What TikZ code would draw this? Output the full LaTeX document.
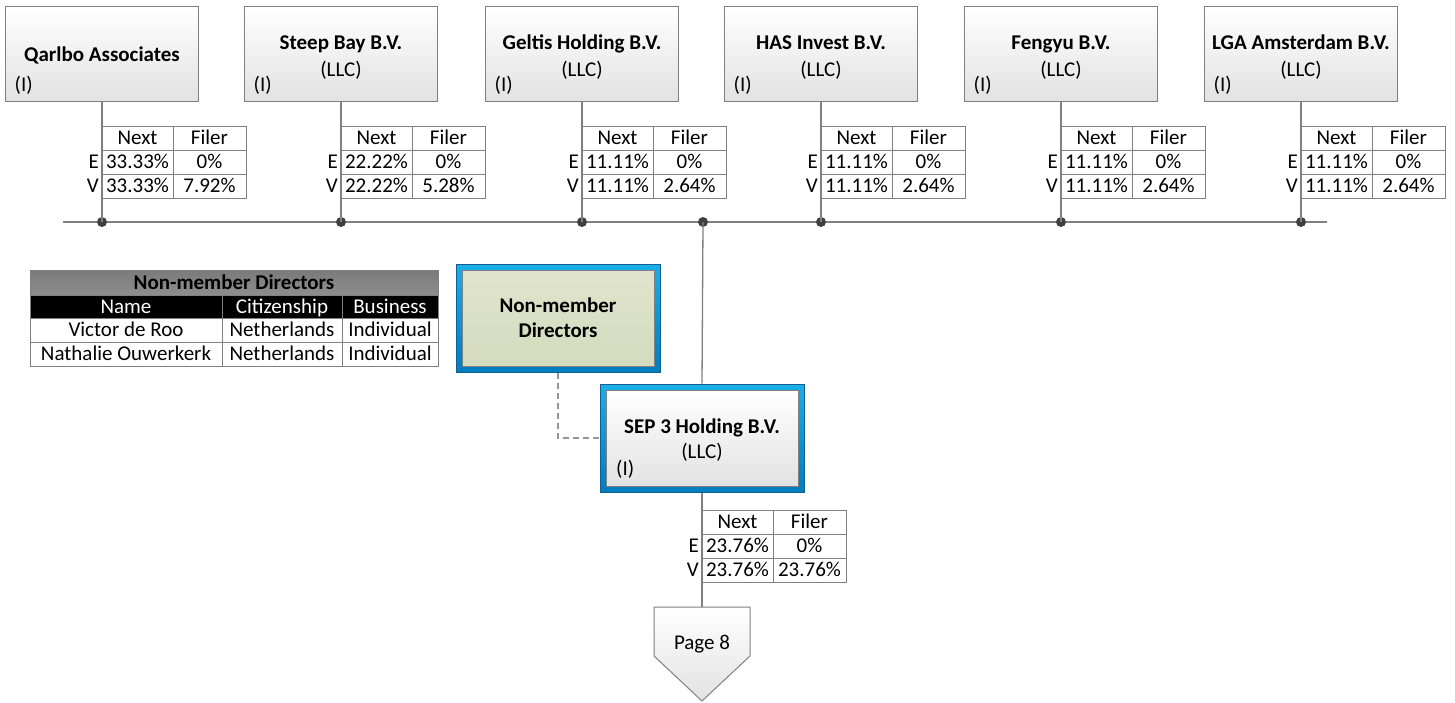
\documentclass[tikz,border=0pt]{standalone}
\usepackage{fontspec}
\setmainfont{Carlito}
\usetikzlibrary{shadings}
\definecolor{lgray}{RGB}{128,128,128}
\definecolor{dashc}{RGB}{150,150,150}
\definecolor{dotc}{RGB}{64,64,64}
\definecolor{boxbot}{RGB}{226,226,226}
\definecolor{bluetop}{RGB}{25,175,232}
\definecolor{bluebot}{RGB}{0,125,190}
\definecolor{blueedge}{RGB}{20,95,140}
\definecolor{greentop}{RGB}{224,228,204}
\definecolor{greenbot}{RGB}{212,219,190}
\definecolor{hdrgray}{RGB}{122,122,122}
\newcommand\OwnTab[7]{%
  \begin{scope}[shift={(#2,#3)}]
    \draw[tabline] (0,0) rectangle (144,72);
    \draw[tabline] (0,24) -- (144,24) (0,48) -- (144,48) (71,0) -- (71,72);
    \node[cell] (#1hn) at (35.5,12) {Next};
    \node[cell] (#1hf) at (107.5,12) {Filer};
    \node[cell,anchor=east] (#1le) at (-3,36) {E};
    \node[cell,anchor=east] (#1lv) at (-3,60) {V};
    \node[cell] (#1ne) at (35.5,36) {#4};
    \node[cell] (#1fe) at (107.5,36) {#5};
    \node[cell] (#1nv) at (35.5,60) {#6};
    \node[cell] (#1fv) at (107.5,60) {#7};
  \end{scope}}
\begin{document}
\begin{tikzpicture}[x=1pt,y=-1pt,
  every node/.style={font=\fontsize{21}{24}\selectfont, inner sep=0pt},
  cell/.style={text height=16pt, text depth=3pt},
  tabline/.style={draw=lgray, line width=1pt},
  conn/.style={draw=lgray, line width=1.3pt},
  entbox/.style={draw=lgray, line width=1pt, top color=white, bottom color=boxbot, minimum width=193pt, minimum height=95pt},
  ttl/.style={font=\fontsize{21}{24}\selectfont\bfseries},
  busdot/.style={circle, fill=dotc, minimum size=10pt},
  blueframe/.style={draw=blueedge, line width=1pt, top color=bluetop, bottom color=bluebot, minimum width=204pt, minimum height=108pt},
]
\useasboundingbox (0,0) rectangle (1455,702);

% ---- owner boxes
\node[entbox] (q) at (102,53.5) {};
\node[entbox] (s) at (341,53.5) {};
\node[entbox] (g) at (582,53.5) {};
\node[entbox] (h) at (821,53.5) {};
\node[entbox] (f) at (1061,53.5) {};
\node[entbox] (l) at (1301,53.5) {};

\node[ttl,anchor=base] (qt) at (102,61.5) {Qarlbo Associates};
\node[ttl,anchor=base] (st) at (341,49.5) {Steep Bay B.V.};
\node[ttl,anchor=base] (gt) at (582,49.5) {Geltis Holding B.V.};
\node[ttl,anchor=base] (ht) at (821,49.5) {HAS Invest B.V.};
\node[ttl,anchor=base] (ft) at (1061,49.5) {Fengyu B.V.};
\node[ttl,anchor=base] (lt) at (1301,49.5) {LGA Amsterdam B.V.};
\foreach \n/\x in {s/341,g/582,h/821,f/1061,l/1301}{
  \node[anchor=base] (\n llc) at (\x,76) {(LLC)};
}
\foreach \n/\x in {q/102,s/341,g/582,h/821,f/1061,l/1301}{
  \node[anchor=base west] (\n i) at (\x-96.5+9,91) {(I)};
}

% ---- bus
\coordinate (busL) at (63,222);
\coordinate (busR) at (1327,222);
\draw[conn] (busL) -- (busR);
\node[busdot] (dq) at (102,222) {};
\node[busdot] (ds) at (341,222) {};
\node[busdot] (dg) at (582,222) {};
\node[busdot] (dh) at (821,222) {};
\node[busdot] (df) at (1061,222) {};
\node[busdot] (dl) at (1301,222) {};
\node[busdot] (dsep) at (703,222) {};
\foreach \n in {q,s,g,h,f,l}{ \draw[conn] (\n.south) -- (d\n.center); }

% ---- ownership tables
\OwnTab{tq}{102}{126}{33.33\%}{0\%}{33.33\%}{7.92\%}
\OwnTab{ts}{341}{126}{22.22\%}{0\%}{22.22\%}{5.28\%}
\OwnTab{tg}{582}{126}{11.11\%}{0\%}{11.11\%}{2.64\%}
\OwnTab{th}{821}{126}{11.11\%}{0\%}{11.11\%}{2.64\%}
\OwnTab{tf}{1061}{126}{11.11\%}{0\%}{11.11\%}{2.64\%}
\OwnTab{tl}{1301}{126}{11.11\%}{0\%}{11.11\%}{2.64\%}

% ---- SEP 3 Holding
\node[blueframe] (sep) at (702,438) {};
\node[entbox, minimum width=192pt, minimum height=96pt] (sepin) at (702,438) {};
\node[ttl,anchor=base] (sept) at (702,433.5) {SEP 3 Holding B.V.};
\node[anchor=base] (sepllc) at (702,458) {(LLC)};
\node[anchor=base west] (sepi) at (616,475) {(I)};
\draw[conn] (dsep.center) -- (sep.north);

% ---- Non-member directors box
\node[blueframe] (nmd) at (558,318) {};
\node[draw=lgray, line width=1pt, top color=greentop, bottom color=greenbot, minimum width=192pt, minimum height=96pt] (nmdin) at (558,318) {};
\node[ttl,anchor=base] (nmdt1) at (558,312) {Non-member};
\node[ttl,anchor=base] (nmdt2) at (558,337) {Directors};
\draw[draw=dashc, line width=1.3pt, dash pattern=on 6pt off 4pt] (nmd.south) |- (sep.west);

% ---- SEP table and page link
\OwnTab{tsep}{702}{510}{23.76\%}{0\%}{23.76\%}{23.76\%}
\coordinate (p8top) at (702,607);
\draw[draw=lgray, line width=1pt, top color=white, bottom color=boxbot]
  (654,607) -- (750,607) -- (750,656) -- (702,701) -- (654,656) -- cycle;
\node[anchor=base] (p8) at (702,649) {Page 8};
\draw[conn] (sep.south) -- (p8top);

% ---- Non-member directors table
\fill[top color=hdrgray, bottom color=hdrgray!85!white] (30,270) rectangle (438,295);
\fill[black] (30,295) rectangle (438,318);
\draw[tabline] (30,270) rectangle (438,366);
\draw[tabline] (30,295) -- (438,295) (30,318) -- (438,318) (30,342) -- (438,342);
\draw[tabline] (222,295) -- (222,366) (342,295) -- (342,366);
\node[ttl, cell] (nt) at (234,282.5) {Non-member Directors};
\node[cell, text=white] (nh1) at (126,306.5) {Name};
\node[cell, text=white] (nh2) at (282,306.5) {Citizenship};
\node[cell, text=white] (nh3) at (390,306.5) {Business};
\node[cell] (nr1a) at (126,330) {Victor de Roo};
\node[cell] (nr1b) at (282,330) {Netherlands};
\node[cell] (nr1c) at (390,330) {Individual};
\node[cell] (nr2a) at (126,354) {Nathalie Ouwerkerk};
\node[cell] (nr2b) at (282,354) {Netherlands};
\node[cell] (nr2c) at (390,354) {Individual};
\end{tikzpicture}
\end{document}
